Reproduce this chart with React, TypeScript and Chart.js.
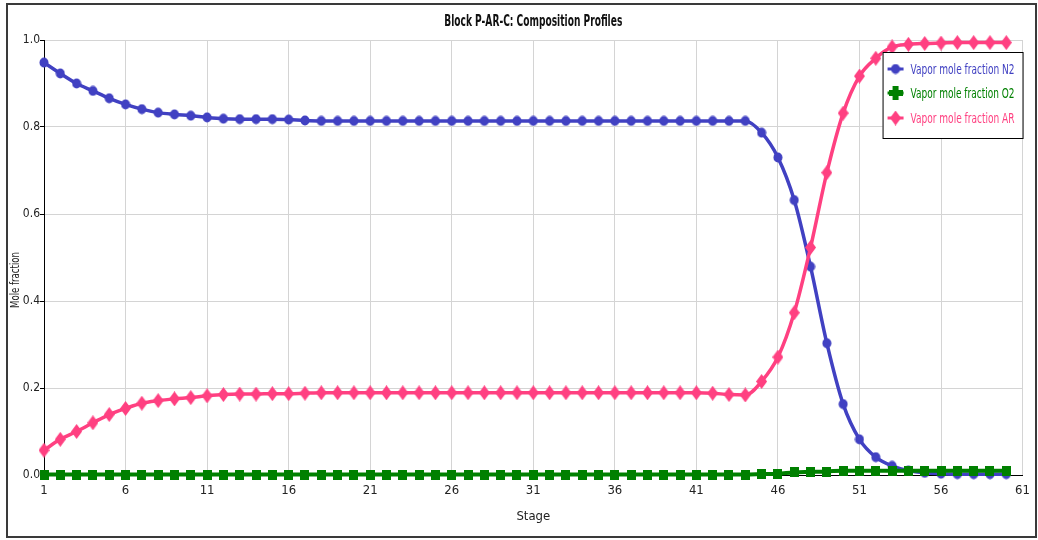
import React, { useEffect, useRef } from "react";
import { Chart, registerables } from "chart.js";

Chart.register(...registerables);

const chartTitle = "Block P-AR-C: Composition Profiles";
const xTitle = "Stage";
const yTitle = "Mole fraction";
const seriesNames = ["Vapor mole fraction N2", "Vapor mole fraction O2", "Vapor mole fraction AR"];

const stages = [
  1, 2, 3, 4, 5, 6, 7, 8, 9, 10, 11, 12, 13, 14, 15, 16, 17, 18, 19, 20,
  21, 22, 23, 24, 25, 26, 27, 28, 29, 30, 31, 32, 33, 34, 35, 36, 37, 38, 39, 40,
  41, 42, 43, 44, 45, 46, 47, 48, 49, 50, 51, 52, 53, 54, 55, 56, 57, 58, 59, 60,
];

const n2 = [
  0.948, 0.923, 0.9, 0.883, 0.866, 0.852, 0.841, 0.833, 0.829, 0.826,
  0.822, 0.819, 0.818, 0.818, 0.818, 0.817, 0.815, 0.814, 0.814, 0.814,
  0.814, 0.814, 0.814, 0.814, 0.814, 0.814, 0.814, 0.814, 0.814, 0.814,
  0.814, 0.814, 0.814, 0.814, 0.814, 0.814, 0.814, 0.814, 0.814, 0.814,
  0.814, 0.814, 0.814, 0.814, 0.787, 0.73, 0.632, 0.479, 0.303, 0.163,
  0.082, 0.041, 0.021, 0.01, 0.005, 0.003, 0.002, 0.002, 0.002, 0.002,
];

const o2 = [
  0.001, 0.001, 0.001, 0.001, 0.001, 0.001, 0.001, 0.001, 0.001, 0.001,
  0.001, 0.001, 0.001, 0.001, 0.001, 0.001, 0.001, 0.001, 0.001, 0.001,
  0.001, 0.001, 0.001, 0.001, 0.001, 0.001, 0.001, 0.001, 0.001, 0.001,
  0.001, 0.001, 0.001, 0.001, 0.001, 0.001, 0.001, 0.001, 0.001, 0.001,
  0.001, 0.001, 0.001, 0.001, 0.002, 0.003, 0.006, 0.007, 0.008, 0.01,
  0.01, 0.01, 0.01, 0.01, 0.01, 0.01, 0.01, 0.01, 0.01, 0.01,
];

const ar = [
  0.057, 0.082, 0.1, 0.12, 0.139, 0.153, 0.165, 0.171, 0.175, 0.178,
  0.182, 0.185, 0.186, 0.186, 0.187, 0.187, 0.188, 0.189, 0.189, 0.189,
  0.189, 0.189, 0.189, 0.189, 0.189, 0.189, 0.189, 0.189, 0.189, 0.189,
  0.189, 0.189, 0.189, 0.189, 0.189, 0.189, 0.189, 0.189, 0.189, 0.189,
  0.189, 0.188, 0.185, 0.184, 0.215, 0.271, 0.373, 0.523, 0.695, 0.832,
  0.917, 0.958, 0.984, 0.99, 0.992, 0.993, 0.994, 0.994, 0.994, 0.994,
];

const xTicks = [1, 6, 11, 16, 21, 26, 31, 36, 41, 46, 51, 56, 61];
const yTicks = [0, 0.2, 0.4, 0.6, 0.8, 1.0];

const BLUE = "#4141c2";
const GREEN = "#008000";
const PINK = "#ff4081";
const FONT = "'DejaVu Sans Condensed', 'Liberation Sans', sans-serif";

function makeMarker(kind: string, color: string): HTMLCanvasElement {
  const c = document.createElement("canvas");
  let w = 10;
  let h = 10;
  if (kind === "circle") { w = 10; h = 11; }
  if (kind === "square") { w = 9; h = 10; }
  if (kind === "diamond") { w = 11; h = 15; }
  if (kind === "plus") { w = 14; h = 14; }
  c.width = w;
  c.height = h;
  const g = c.getContext("2d")!;
  g.fillStyle = color;
  if (kind === "circle") {
    g.beginPath();
    g.ellipse(w / 2, h / 2, w / 2 - 0.5, h / 2 - 0.5, 0, 0, Math.PI * 2);
    g.fill();
  } else if (kind === "square") {
    g.fillRect(0, 0, w, h);
  } else if (kind === "diamond") {
    g.beginPath();
    g.moveTo(w / 2, 0);
    g.lineTo(w, h / 2);
    g.lineTo(w / 2, h);
    g.lineTo(0, h / 2);
    g.closePath();
    g.fill();
  } else if (kind === "plus") {
    g.fillRect(4, 0, 6, 14);
    g.fillRect(0, 4, 14, 6);
  }
  return c;
}

export default function App() {
  const ref = useRef<HTMLCanvasElement | null>(null);

  useEffect(() => {
    if (!ref.current) return;
    const blueM = makeMarker("circle", BLUE);
    const greenM = makeMarker("square", GREEN);
    const pinkM = makeMarker("diamond", PINK);
    const legendMarkers = [makeMarker("circle", BLUE), makeMarker("plus", GREEN), makeMarker("diamond", PINK)];
    const colors = [BLUE, GREEN, PINK];

    const overlay = {
      id: "overlay",
      afterDraw(chart: any) {
        const ctx = chart.ctx as CanvasRenderingContext2D;
        const a = chart.chartArea;
        ctx.save();
        // title
        ctx.fillStyle = "#111";
        ctx.font = `bold 15px ${FONT}`;
        ctx.textAlign = "center";
        ctx.textBaseline = "middle";
        ctx.fillText(chartTitle, (a.left + a.right) / 2, 22, 178);
        // y axis title
        ctx.save();
        ctx.translate(16, 280);
        ctx.rotate(-Math.PI / 2);
        ctx.font = `12px ${FONT}`;
        ctx.fillStyle = "#222";
        ctx.textAlign = "center";
        ctx.fillText(yTitle, 0, 0, 56);
        ctx.restore();
        // legend
        const bx = a.right - 140;
        const by = a.top + 12;
        ctx.fillStyle = "#fff";
        ctx.fillRect(bx, by, 140, 86);
        ctx.strokeStyle = "#000";
        ctx.lineWidth = 1;
        ctx.strokeRect(bx + 0.5, by + 0.5, 140, 86);
        const rows = [17, 41, 66];
        ctx.font = `14px ${FONT}`;
        ctx.textAlign = "left";
        for (let i = 0; i < 3; i++) {
          const y = by + rows[i];
          ctx.strokeStyle = colors[i];
          ctx.lineWidth = 3;
          ctx.beginPath();
          ctx.moveTo(bx + 5, y);
          ctx.lineTo(bx + 21, y);
          ctx.stroke();
          const m = legendMarkers[i];
          ctx.drawImage(m, bx + 13 - m.width / 2, y - m.height / 2);
          ctx.fillStyle = colors[i];
          ctx.fillText(seriesNames[i], bx + 28, y + 1, 104);
        }
        ctx.restore();
      },
    };

    const mk = (vals: number[]) => stages.map((s, i) => ({ x: s, y: vals[i] }));

    const chart = new Chart(ref.current, {
      type: "line",
      data: {
        datasets: [
          {
            label: seriesNames[0],
            data: mk(n2),
            borderColor: BLUE,
            backgroundColor: BLUE,
            borderWidth: 3.5,
            pointStyle: blueM as any,
            cubicInterpolationMode: "monotone",
            clip: false,
            order: 3,
          },
          {
            label: seriesNames[1],
            data: mk(o2),
            borderColor: GREEN,
            backgroundColor: GREEN,
            borderWidth: 4,
            pointStyle: greenM as any,
            cubicInterpolationMode: "monotone",
            clip: false,
            order: 1,
          },
          {
            label: seriesNames[2],
            data: mk(ar),
            borderColor: PINK,
            backgroundColor: PINK,
            borderWidth: 3.5,
            pointStyle: pinkM as any,
            cubicInterpolationMode: "monotone",
            clip: false,
            order: 2,
          },
        ] as any,
      },
      options: {
        animation: false,
        responsive: false,
        maintainAspectRatio: false,
        layout: { padding: { left: 8, right: 13, top: 40, bottom: 12 } },
        plugins: {
          legend: { display: false },
          title: { display: false },
          tooltip: { enabled: false },
        },
        scales: {
          x: {
            type: "linear",
            min: 1,
            max: 61,
            afterBuildTicks: (scale: any) => {
              scale.ticks = xTicks.map((v) => ({ value: v }));
            },
            afterFit: (scale: any) => {
              scale.height = 53;
            },
            grid: { color: "#d4d4d4", lineWidth: 1, drawTicks: false },
            border: { color: "#000", width: 1 },
            ticks: {
              padding: 8,
              color: "#222",
              font: { family: FONT, size: 13 },
              maxRotation: 0,
              autoSkip: false,
              callback: (v: any) => String(v),
            },
            title: {
              display: true,
              text: xTitle,
              color: "#222",
              font: { family: FONT, size: 13 },
              padding: { top: 4, bottom: 4 },
            },
          },
          y: {
            type: "linear",
            min: 0,
            max: 1,
            afterBuildTicks: (scale: any) => {
              scale.ticks = yTicks.map((v) => ({ value: v }));
            },
            afterFit: (scale: any) => {
              scale.width = 36;
            },
            grid: { color: "#d4d4d4", lineWidth: 1, tickLength: 4, tickColor: "#000" },
            border: { color: "#000", width: 1 },
            ticks: {
              padding: 0,
              color: "#222",
              font: { family: FONT, size: 12 },
              callback: (v: any) => Number(v).toFixed(1),
            },
            title: { display: false },
          },
        },
      },
      plugins: [overlay],
    });

    return () => chart.destroy();
  }, []);

  return (
    <div style={{ position: "fixed", left: 0, top: 0, width: 1038, height: 540, background: "#fff" }}>
      <div
        style={{
          position: "absolute",
          left: 6,
          top: 3,
          width: 1031,
          height: 535,
          border: "2px solid #3a3a3a",
          boxSizing: "border-box",
        }}
      />
      <canvas
        ref={ref}
        width={1038}
        height={540}
        style={{ position: "absolute", left: 0, top: 0, width: 1038, height: 540 }}
      />
    </div>
  );
}
